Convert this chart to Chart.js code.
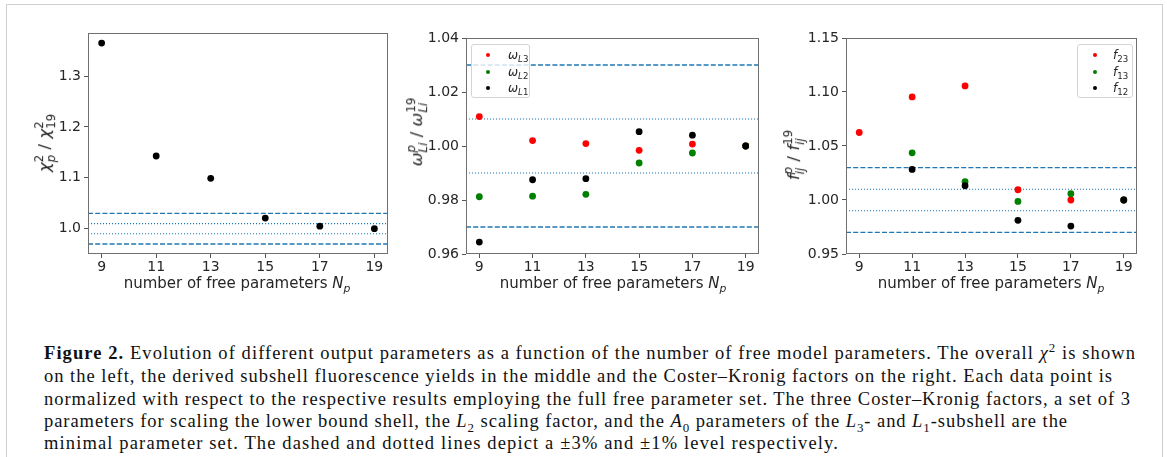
<!DOCTYPE html>
<html><head><meta charset="utf-8">
<script src="https://cdn.jsdelivr.net/npm/chart.js@4.4.0/dist/chart.umd.min.js"></script>
<style>
html,body{margin:0;padding:0;background:#fff;}
body{width:1167px;height:457px;position:relative;overflow:hidden;font-family:"DejaVu Sans",sans-serif;color:#262626;}
#frame{position:absolute;left:6px;top:3.5px;width:1155px;height:470px;border:1.5px solid #cfcfcf;border-bottom:none;}
canvas{position:absolute;top:0;}
.ytitle,.xtitle{position:absolute;white-space:nowrap;font-size:15px;line-height:1;}
.ytitle{transform:translate(-50%,-50%) rotate(-90deg);font-size:16.5px;}
.xtitle{transform:translate(-50%,-50%);}
.ss{display:inline-block;vertical-align:-0.42em;font-size:0.72em;line-height:1.0;text-align:left;}
.ss span{display:block;}
.legend{position:absolute;border:1px solid #d4d4d4;border-radius:3px;background:rgba(255,255,255,0.8);box-sizing:border-box;}
.row{position:absolute;left:0;width:100%;height:14px;}
.dot{position:absolute;width:4px;height:4px;border-radius:50%;top:5px;}
.lab{position:absolute;top:0;font-size:12px;line-height:14px;white-space:nowrap;}
.lab .sb{font-size:0.72em;vertical-align:-0.35em;}
#caption{position:absolute;left:44px;top:0;font-family:"Liberation Serif","Times New Roman",serif;color:#111;}
.cl{position:absolute;left:0;white-space:nowrap;height:22px;line-height:22px;}
.cl sub,.cl sup{font-size:0.7em;line-height:0;}
</style>
</head>
<body>
<div id="frame"></div>
<canvas id="c1" width="395" height="300" style="left:0px;width:395px;height:300px"></canvas>
<canvas id="c2" width="385" height="300" style="left:395px;width:385px;height:300px"></canvas>
<canvas id="c3" width="387" height="300" style="left:780px;width:387px;height:300px"></canvas>

<div class="ytitle" style="left:46px;top:143px"><i>χ</i><span class="ss"><span>2</span><span><i>p</i></span></span> / <i>χ</i><span class="ss"><span>2</span><span>19</span></span></div>
<div class="ytitle" style="left:418px;top:132px"><i>ω</i><span class="ss"><span><i>p</i></span><span><i>Li</i></span></span> / <i>ω</i><span class="ss"><span>19</span><span><i>Li</i></span></span></div>
<div class="ytitle" style="left:795px;top:155px"><i>f</i><span class="ss"><span><i>p</i></span><span><i>ij</i></span></span> / <i>f</i><span class="ss"><span>19</span><span><i>ij</i></span></span></div>

<div class="xtitle" style="left:237px;top:285px">number of free parameters <i>N</i><sub style="font-size:0.72em"><i>p</i></sub></div>
<div class="xtitle" style="left:613px;top:285px">number of free parameters <i>N</i><sub style="font-size:0.72em"><i>p</i></sub></div>
<div class="xtitle" style="left:991px;top:285px">number of free parameters <i>N</i><sub style="font-size:0.72em"><i>p</i></sub></div>

<div class="legend" style="left:471px;top:44px;width:59px;height:54px">
  <div class="row" style="top:3px"><span class="dot" style="left:14px;background:#ff0000"></span><span class="lab" style="left:36px"><i>ω</i><span class="sb"><i>L</i>3</span></span></div>
  <div class="row" style="top:19.5px"><span class="dot" style="left:14px;background:#008000"></span><span class="lab" style="left:36px"><i>ω</i><span class="sb"><i>L</i>2</span></span></div>
  <div class="row" style="top:36px"><span class="dot" style="left:14px;background:#000000"></span><span class="lab" style="left:36px"><i>ω</i><span class="sb"><i>L</i>1</span></span></div>
</div>
<div class="legend" style="left:1077px;top:44px;width:56px;height:54px">
  <div class="row" style="top:3px"><span class="dot" style="left:14.5px;background:#ff0000"></span><span class="lab" style="left:35px"><i>f</i><span class="sb">23</span></span></div>
  <div class="row" style="top:19.5px"><span class="dot" style="left:14.5px;background:#008000"></span><span class="lab" style="left:35px"><i>f</i><span class="sb">13</span></span></div>
  <div class="row" style="top:36px"><span class="dot" style="left:14.5px;background:#000000"></span><span class="lab" style="left:35px"><i>f</i><span class="sb">12</span></span></div>
</div>

<div id="caption">
  <div class="cl" data-w="1092" style="top:342px"><b>Figure 2.</b> Evolution of different output parameters as a function of the number of free model parameters. The overall <i>χ</i><sup>2</sup> is shown</div>
  <div class="cl" data-w="1069" style="top:365px">on the left, the derived subshell fluorescence yields in the middle and the Coster–Kronig factors on the right. Each data point is</div>
  <div class="cl" data-w="1087" style="top:387.5px">normalized with respect to the respective results employing the full free parameter set. The three Coster–Kronig factors, a set of 3</div>
  <div class="cl" data-w="1024" style="top:410px">parameters for scaling the lower bound shell, the <i>L</i><sub>2</sub> scaling factor, and the <i>A</i><sub>0</sub> parameters of the <i>L</i><sub>3</sub>- and <i>L</i><sub>1</sub>-subshell are the</div>
  <div class="cl" data-w="795" style="top:432px">minimal parameter set. The dashed and dotted lines depict a ±3% and ±1% level respectively.</div>
</div>

<script>
// ---- data ----
const nParams = [9, 11, 13, 15, 17, 19];
const chi2Ratio = [1.365, 1.143, 1.099, 1.021, 1.005, 1.000];
const omegaL3 = [1.0109, 1.0020, 1.0009, 0.9984, 1.0007, 1.0000];
const omegaL2 = [0.9812, 0.9814, 0.9821, 0.9937, 0.9974, 1.0000];
const omegaL1 = [0.9644, 0.9875, 0.9879, 1.0053, 1.0040, 1.0000];
const f23 = [1.0625, 1.0954, 1.1056, 1.0095, 1.0000, 1.0000];
const f13 = [null, 1.0437, 1.0169, 0.9987, 1.0058, 1.0000];
const f12 = [null, 1.0283, 1.0132, 0.9812, 0.9759, 1.0000];
const xTicks = [9, 11, 13, 15, 17, 19];
const yTicksChi = [1.0, 1.1, 1.2, 1.3];
const yTicksOmega = [0.96, 0.98, 1.00, 1.02, 1.04];
const yTicksF = [0.95, 1.00, 1.05, 1.10, 1.15];
const dashedLevels = [1.03, 0.97];
const dottedLevels = [1.01, 0.99];
const xRange = [8.5, 19.5];

// ---- caption fitting: fixed font size, spread with letter spacing ----
(function(){
  const lines = document.querySelectorAll('.cl');
  lines.forEach(l => {
    l.style.fontSize = '18.5px';
    const target = +l.dataset.w;
    const nat = l.getBoundingClientRect().width;
    const n = l.textContent.length;
    l.style.letterSpacing = ((target - nat) / n) + 'px';
  });
})();

Chart.defaults.font.family = '"DejaVu Sans", sans-serif';
Chart.defaults.color = '#262626';

const spinePlugin = {
  id: 'spines',
  afterDraw(chart) {
    const {ctx, chartArea: a} = chart;
    ctx.save();
    ctx.strokeStyle = '#707070';
    ctx.lineWidth = 1;
    ctx.strokeRect(a.left + 0.5, a.top + 0.5, a.right - a.left - 1, a.bottom - a.top - 1);
    ctx.restore();
  }
};

function pts(ys) { return nParams.map((x, i) => ({x: x, y: ys[i]})).filter(p => p.y !== null); }
function levelLine(v, dash) {
  return {type: 'line', data: [{x: xRange[0], y: v}, {x: xRange[1], y: v}], borderColor: '#1f77b4',
    borderWidth: dash ? 1.3 : 1.1, borderDash: dash ? [5, 2.2] : [1.1, 1.9], pointRadius: 0, order: 10, fill: false};
}
function levelSets() {
  return dashedLevels.map(v => levelLine(v, true)).concat(dottedLevels.map(v => levelLine(v, false)));
}
function scatterSet(ys, color, order) {
  return {type: 'scatter', data: pts(ys), backgroundColor: color, borderColor: color, borderWidth: 0,
    pointRadius: 3.4, order: order};
}

function makeChart(id, sets, yMin, yMax, yTicks, dec, yWidth, padRight, padTop) {
  new Chart(document.getElementById(id), {
    type: 'scatter',
    data: {datasets: sets},
    options: {
      responsive: false, animation: false, events: [],
      layout: {padding: {left: 0, top: padTop, right: padRight, bottom: 0}},
      plugins: {legend: {display: false}, tooltip: {enabled: false}},
      scales: {
        x: {
          type: 'linear', min: xRange[0], max: xRange[1],
          afterBuildTicks: ax => { ax.ticks = xTicks.map(v => ({value: v})); },
          afterFit: ax => { ax.height = 46; },
          ticks: {autoSkip: false, maxRotation: 0, padding: 1, font: {size: 14}, color: '#262626', callback: v => String(v)},
          grid: {drawOnChartArea: false, drawTicks: true, tickLength: 4, color: '#555'},
          border: {display: false}
        },
        y: {
          type: 'linear', min: yMin, max: yMax,
          afterBuildTicks: ax => { ax.ticks = yTicks.map(v => ({value: v})); },
          afterFit: ax => { ax.width = yWidth; },
          ticks: {autoSkip: false, padding: 3, font: {size: 14}, color: '#262626', callback: v => Number(v).toFixed(dec)},
          grid: {drawOnChartArea: false, drawTicks: true, tickLength: 4, color: '#555'},
          border: {display: false}
        }
      }
    },
    plugins: [spinePlugin]
  });
}

makeChart('c1', levelSets().concat([scatterSet(chi2Ratio, '#000000', 1)]), 0.9503, 1.3848, yTicksChi, 1, 88, 7, 33);
makeChart('c2', levelSets().concat([scatterSet(omegaL3, '#ff0000', 3), scatterSet(omegaL2, '#008000', 2), scatterSet(omegaL1, '#000000', 1)]), 0.96, 1.04, yTicksOmega, 2, 71, 21, 38);
makeChart('c3', levelSets().concat([scatterSet(f23, '#ff0000', 3), scatterSet(f13, '#008000', 2), scatterSet(f12, '#000000', 1)]), 0.95, 1.15, yTicksF, 2, 66, 30, 38);
</script>
</body></html>
